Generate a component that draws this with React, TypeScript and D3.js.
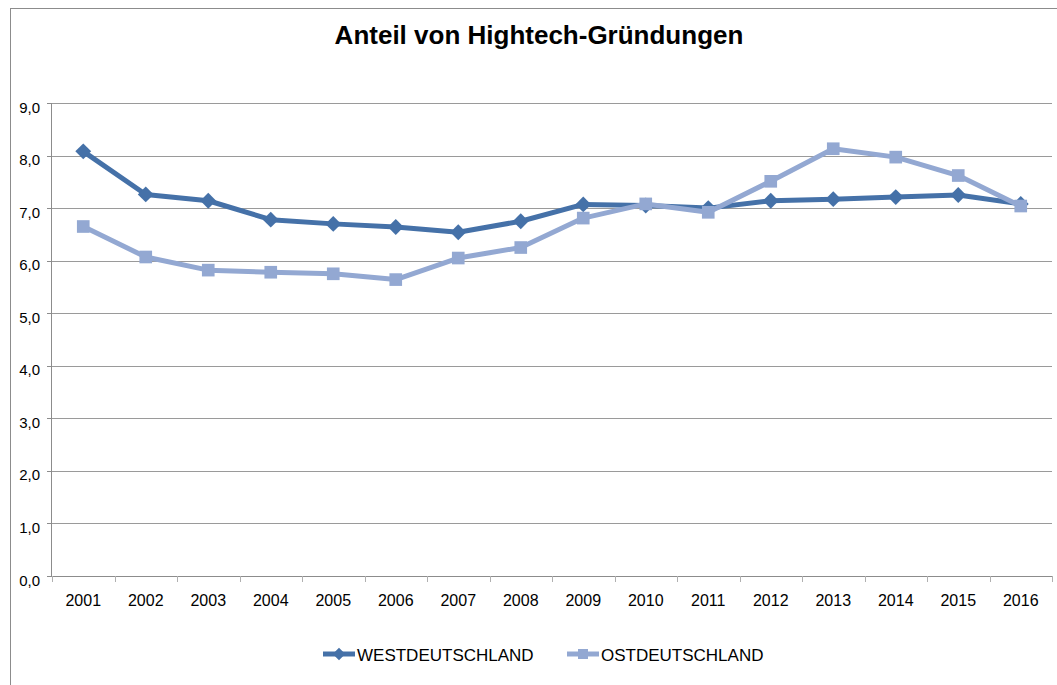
import React, { useRef, useEffect } from "react";
import * as d3 from "d3";

const years = ["2001", "2002", "2003", "2004", "2005", "2006", "2007", "2008", "2009", "2010", "2011", "2012", "2013", "2014", "2015", "2016"];
const west = [8.08, 7.26, 7.14, 6.78, 6.7, 6.64, 6.54, 6.75, 7.07, 7.05, 7.0, 7.14, 7.17, 7.21, 7.25, 7.08];
const ost = [6.65, 6.07, 5.82, 5.78, 5.75, 5.64, 6.05, 6.25, 6.81, 7.08, 6.92, 7.51, 8.13, 7.97, 7.62, 7.04];
const yTicks = [0, 1, 2, 3, 4, 5, 6, 7, 8, 9];
const seriesNames = ["WESTDEUTSCHLAND", "OSTDEUTSCHLAND"];

export default function App() {
  const svgRef = useRef<SVGSVGElement>(null);

  useEffect(() => {
    const width = 1057;
    const height = 685;
    const left = 52;
    const right = 1052;
    const top = 103;
    const bottom = 576;
    const font = "'Liberation Sans', Arial, sans-serif";

    const root = d3.select(svgRef.current);
    root.selectAll("*").remove();
    const svg = root.attr("width", width).attr("height", height);

    svg.append("rect").attr("width", width).attr("height", height).attr("fill", "white");

    // outer chart frame
    svg
      .append("rect")
      .attr("x", 10.5)
      .attr("y", 8.5)
      .attr("width", 1100)
      .attr("height", 800)
      .attr("fill", "none")
      .attr("stroke", "#8c8c8c")
      .attr("stroke-width", 1);

    svg
      .append("text")
      .attr("x", 539)
      .attr("y", 44)
      .attr("text-anchor", "middle")
      .style("font-family", font)
      .style("font-weight", "bold")
      .style("font-size", "26px")
      .text("Anteil von Hightech-Gründungen");

    const x = d3.scaleBand().domain(years).range([left, right]);
    const cx = (d: string) => (x(d) as number) + x.bandwidth() / 2;
    const y = d3.scaleLinear().domain([0, 9]).range([bottom, top]);

    // gridlines
    svg
      .selectAll("line.grid")
      .data(yTicks.filter((t) => t > 0))
      .enter()
      .append("line")
      .attr("x1", left)
      .attr("x2", right)
      .attr("y1", (d) => Math.round(y(d)) + 0.5)
      .attr("y2", (d) => Math.round(y(d)) + 0.5)
      .attr("stroke", "#9a9a9a")
      .attr("stroke-width", 1);

    // y axis
    svg
      .append("line")
      .attr("x1", left - 0.5)
      .attr("x2", left - 0.5)
      .attr("y1", top)
      .attr("y2", bottom)
      .attr("stroke", "#8c8c8c");
    svg
      .selectAll("line.ytick")
      .data(yTicks)
      .enter()
      .append("line")
      .attr("x1", left - 5)
      .attr("x2", left)
      .attr("y1", (d) => Math.round(y(d)) + 0.5)
      .attr("y2", (d) => Math.round(y(d)) + 0.5)
      .attr("stroke", "#8c8c8c");
    svg
      .selectAll("text.ylab")
      .data(yTicks)
      .enter()
      .append("text")
      .attr("x", 40)
      .attr("y", (d) => y(d) + 9.5)
      .attr("text-anchor", "end")
      .style("font-family", font)
      .style("font-size", "15px")
      .text((d) => d3.format(".1f")(d).replace(".", ","));

    // x axis
    svg
      .append("line")
      .attr("x1", left)
      .attr("x2", right)
      .attr("y1", bottom + 0.5)
      .attr("y2", bottom + 0.5)
      .attr("stroke", "#8c8c8c");
    const bounds = years.map((d) => x(d) as number).concat([right]);
    svg
      .selectAll("line.xtick")
      .data(bounds)
      .enter()
      .append("line")
      .attr("x1", (d) => Math.round(d) + 0.5)
      .attr("x2", (d) => Math.round(d) + 0.5)
      .attr("y1", bottom)
      .attr("y2", bottom + 6)
      .attr("stroke", "#b0b0b0");
    svg
      .selectAll("text.xlab")
      .data(years)
      .enter()
      .append("text")
      .attr("x", (d) => cx(d))
      .attr("y", 606)
      .attr("text-anchor", "middle")
      .style("font-family", font)
      .style("font-size", "16px")
      .text((d) => d);

    const line = d3
      .line<number>()
      .x((_, i) => cx(years[i]))
      .y((d) => y(d));

    const diamond = d3.symbol().type(d3.symbolDiamond2).size(160);
    const square = d3.symbol().type(d3.symbolSquare).size(160);

    const series = [
      { name: seriesNames[0], values: west, color: "#4571a8", marker: diamond },
      { name: seriesNames[1], values: ost, color: "#93a8d2", marker: square },
    ];

    // West first, Ost drawn over it
    series.forEach((s) => {
      svg
        .append("path")
        .datum(s.values)
        .attr("d", line)
        .attr("fill", "none")
        .attr("stroke", s.color)
        .attr("stroke-width", 5)
        .attr("stroke-linejoin", "round");
      svg
        .selectAll(null)
        .data(s.values)
        .enter()
        .append("path")
        .attr("d", s.marker)
        .attr("transform", (d, i) => `translate(${cx(years[i])},${y(d)})`)
        .attr("fill", s.color);
    });

    // legend
    const legendX = [323, 567];
    series.forEach((s, i) => {
      const g = svg.append("g").attr("transform", `translate(${legendX[i]},654)`);
      g.append("line")
        .attr("x1", 0)
        .attr("x2", 32)
        .attr("y1", 0)
        .attr("y2", 0)
        .attr("stroke", s.color)
        .attr("stroke-width", 5);
      g.append("path")
        .attr("d", s.marker.size(100))
        .attr("transform", "translate(16,0)")
        .attr("fill", s.color);
      g.append("text")
        .attr("x", 34)
        .attr("y", 6.5)
        .style("font-family", font)
        .style("font-size", "17px")
        .text(s.name);
    });
  }, []);

  return <svg ref={svgRef} style={{ position: "absolute", left: 0, top: 0, display: "block" }}></svg>;
}
